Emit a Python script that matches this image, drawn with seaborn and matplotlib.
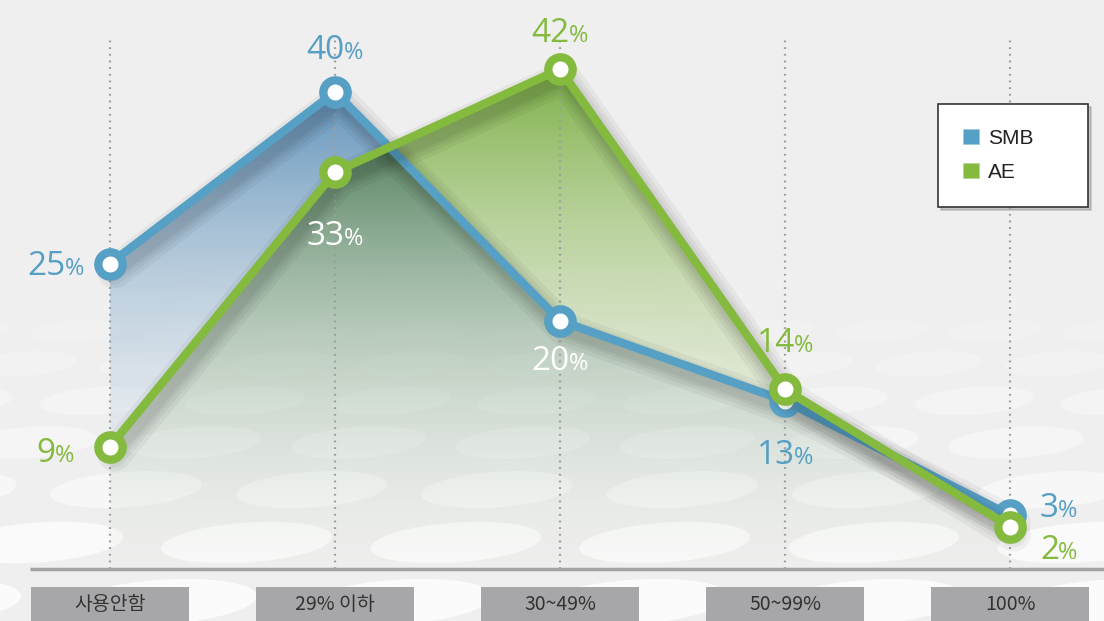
import numpy as np
import pandas as pd
import matplotlib
matplotlib.use('Agg')
import matplotlib.pyplot as plt
import seaborn as sns
from matplotlib.patches import Rectangle, Ellipse, Patch
from matplotlib.font_manager import FontProperties
from matplotlib import patheffects as pe

# ---------------- data ----------------
categories = ['사용안함', '29% 이하', '30~49%', '50~99%', '100%']
smb = [25, 40, 20, 13, 3]
ae = [9, 33, 42, 14, 2]
series_names = ['SMB', 'AE']

# ---------------- styles / layout ----------------
BLUE = '#569fc5'
GREEN = '#84ba3e'
smb_label_colors = [BLUE, BLUE, 'white', BLUE, BLUE]
ae_label_colors = [GREEN, 'white', GREEN, GREEN, GREEN]
# (alignment, dx px, dy px of label centre relative to point)
smb_label_pos = [('right', -26, 0), ('center', 0, 45), ('center', 0, -37), ('center', 0, -51), ('left', 30, 10)]
ae_label_pos = [('right', -36, -4), ('center', 0, -61), ('center', 0, 39), ('center', 0, 49), ('left', 30, -20)]

sns.set_theme(style='white')
plt.rcParams['font.family'] = ['Open Sans', 'DejaVu Sans']

W, H = 1104, 621
fig = plt.figure(figsize=(W / 100, H / 100), dpi=100)
fig.patch.set_facecolor('#efefef')

# ---------------- background with soft pattern ----------------
bg = fig.add_axes([0, 0, 1, 1], zorder=0)
bg.set_xlim(0, W)
bg.set_ylim(H, 0)
bg.axis('off')
y = 215.0
row = 0
while y < H + 40:
    h = 12 + (y - 215) * 0.085
    w = h * 4.3
    a = min(0.8, max(0.0, (y - 215) / 420) ** 1.4)
    step = w * 1.22
    x = -w + (row % 2) * step / 2
    while x < W + w:
        bg.add_patch(Ellipse((x, y), w, h, angle=-4, facecolor='white', alpha=a, lw=0))
        x += step
    y += h * 1.5
    row += 1

# ---------------- main axes ----------------
ax = fig.add_axes([0, 0, 1, 1], zorder=1)
ax.patch.set_alpha(0)
PXX0, PXXS = 110, 225.0
PX0, PXS = 549.5, 11.438
XL = (-PXX0 / PXXS, (W - PXX0) / PXXS)
YL = ((PX0 - H) / PXS, PX0 / PXS)

xs = np.arange(len(categories))
base = (PX0 - 569) / PXS

# gradient area fills (multiply blend where they overlap)
nx, ny = W, H
gx = np.linspace(XL[0], XL[1], nx)
gy = np.linspace(YL[0], YL[1], ny)
XX, YY = np.meshgrid(gx, gy)
inside = (XX >= xs[0]) & (XX <= xs[-1]) & (YY >= base)
mb = inside & (YY <= np.interp(gx, xs, smb)[None, :])
mg = inside & (YY <= np.interp(gx, xs, ae)[None, :])
t = np.clip((YY - base) / (max(smb + ae) - base), 0, 1)[..., None]
B = np.array([0.93, 0.95, 0.97]) * (1 - t) + np.array([0.30, 0.52, 0.70]) * t
G = np.array([0.93, 0.95, 0.86]) * (1 - t) + np.array([0.47, 0.68, 0.25]) * t
rgb = np.where((mb & mg)[..., None], B * G, np.where(mb[..., None], B, G))
alpha = (0.06 + 0.89 * t[..., 0] ** 1.1) * (mb | mg)
img = np.dstack([rgb, alpha])
ax.imshow(img, extent=(XL[0], XL[1], YL[0], YL[1]), origin='lower', aspect='auto',
          interpolation='bilinear', zorder=1)

# dotted guide lines and baseline
ax.vlines(xs, base, (PX0 - 38) / PXS, colors='#9c9c9c', linestyles=(0, (0.8, 2.2)), lw=1.6, zorder=2)
ax.hlines(base, (30 - PXX0) / PXXS, XL[1], colors='#a3a3a5', lw=2.5, zorder=2)

# lines and markers
df = pd.DataFrame({'pos': xs, 'SMB': smb, 'AE': ae})
for name, col, z in [('SMB', BLUE, 4), ('AE', GREEN, 5)]:
    sns.lineplot(data=df, x='pos', y=name, ax=ax, color=col, lw=6, zorder=z, legend=False)
    ln = ax.lines[-1]
    ln.set_zorder(z)
    ln.set_path_effects([pe.SimpleLineShadow(offset=(3, -6), shadow_color='black', alpha=0.045,
                                             linewidth=lw_) for lw_ in (24, 18, 13, 9)] + [pe.Normal()])
    sc = sns.scatterplot(data=df, x='pos', y=name, ax=ax, s=17.5 ** 2, facecolor='white',
                         edgecolor=col, linewidth=6, zorder=z + 0.5, legend=False)
    ax.collections[-1].set_zorder(z + 0.5)

# value labels
fig.canvas.draw()
renderer = fig.canvas.get_renderer()
fp_d = FontProperties(family=['Open Sans', 'DejaVu Sans'], size=24)
fp_p = FontProperties(family=['Open Sans', 'DejaVu Sans'], size=17)
wp = renderer.get_text_width_height_descent('%', fp_p, ismath=False)[0]
cap_half = 0.714 * 24 * 100 / 72 / 2


def put_label(xv, yv, val, color, spec):
    ha, dx, dy = spec
    s = str(val)
    wd = renderer.get_text_width_height_descent(s, fp_d, ismath=False)[0]
    gap = -1
    total = wd + gap + wp
    if ha == 'center':
        left = dx - total / 2
    elif ha == 'right':
        left = dx - total
    else:
        left = dx
    yoff = dy - cap_half
    ax.annotate(s, (xv, yv), xytext=(left, yoff), textcoords='offset pixels', ha='left',
                va='baseline', fontproperties=fp_d, color=color, zorder=7, annotation_clip=False)
    ax.annotate('%', (xv, yv), xytext=(left + wd + gap, yoff), textcoords='offset pixels',
                ha='left', va='baseline', fontproperties=fp_p, color=color, zorder=7,
                annotation_clip=False)


for i in range(len(categories)):
    put_label(xs[i], smb[i], smb[i], smb_label_colors[i], smb_label_pos[i])
    put_label(xs[i], ae[i], ae[i], ae_label_colors[i], ae_label_pos[i])

# category boxes
box_w = 158 / PXXS
ytop = (PX0 - 587) / PXS
for i, c in enumerate(categories):
    ax.add_patch(Rectangle((xs[i] - box_w / 2, YL[0]), box_w, ytop - YL[0], facecolor='#a7a7a9',
                           lw=0, zorder=3, clip_on=False))
    ax.text(xs[i], (PX0 - 604) / PXS, c, ha='center', va='center', fontsize=14, color='#333333',
            family=['Noto Sans CJK KR', 'DejaVu Sans'], zorder=4)

# legend
handles = [Patch(facecolor=BLUE, edgecolor='#9cc8dd', lw=0.5, label=series_names[0]),
           Patch(facecolor=GREEN, edgecolor='#b5d68e', lw=0.5, label=series_names[1])]
leg = ax.legend(handles=handles, loc='upper left',
                bbox_to_anchor=(938 / W, 1 - 104 / H, 150 / W, 0), mode='expand', borderaxespad=0,
                prop=FontProperties(family=['Liberation Sans', 'DejaVu Sans'], size=15),
                frameon=True, fancybox=False, edgecolor='#333333', facecolor='white', framealpha=1,
                shadow={'color': '#999999', 'alpha': 0.5}, handlelength=0.75, handleheight=0.75,
                handletextpad=0.45, labelspacing=0.72, borderpad=1.2)
leg.get_frame().set_linewidth(1.2)
for tx in leg.get_texts():
    tx.set_color('#222222')
leg.set_zorder(10)

ax.set_xlim(*XL)
ax.set_ylim(*YL)
ax.axis('off')

fig.savefig('out.png', dpi=100, facecolor=fig.get_facecolor())
